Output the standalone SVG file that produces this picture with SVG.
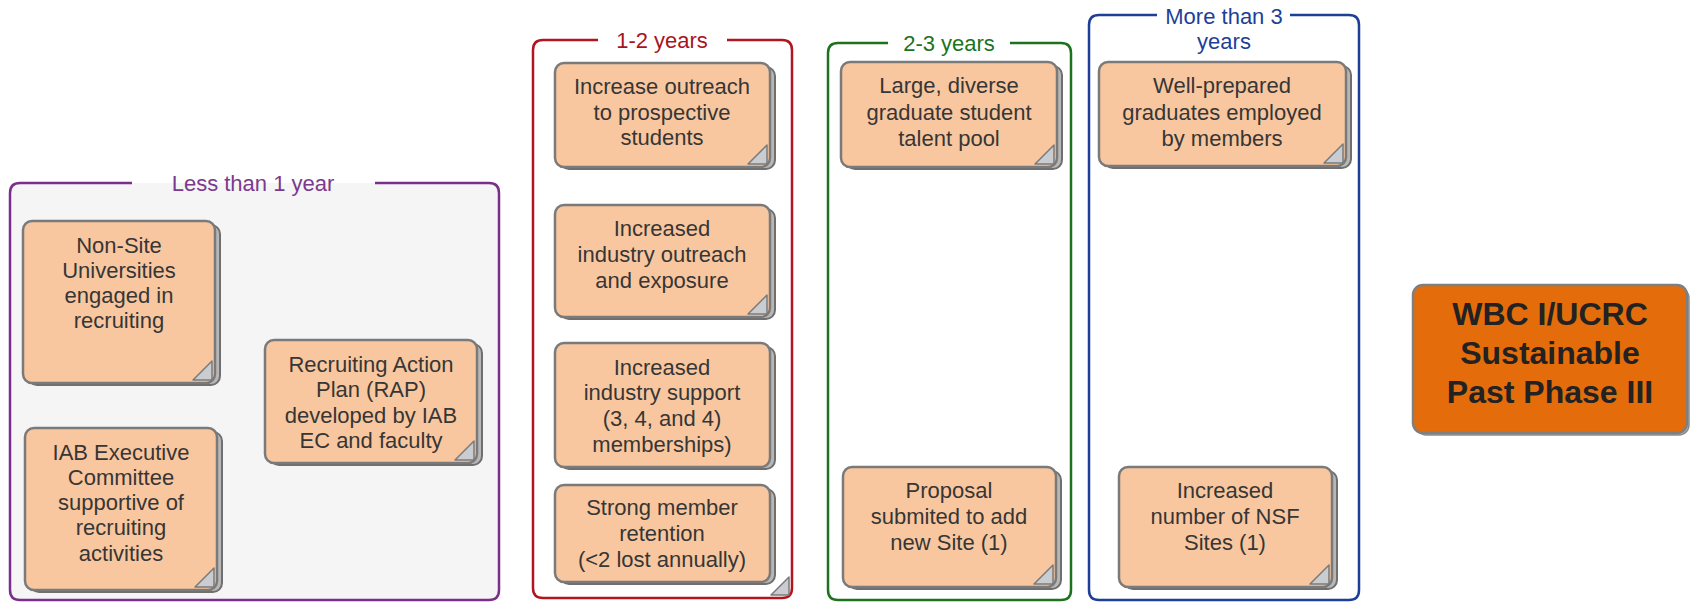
<svg xmlns="http://www.w3.org/2000/svg" width="1691" height="604" viewBox="0 0 1691 604">
<style>
text{font-family:"Liberation Sans",Arial,sans-serif;}
.t{font-size:22px;fill:#363636;text-anchor:middle;}
.lbl{font-size:22px;text-anchor:middle;}
.back{fill:#b7b7b7;stroke:#6f6f6f;stroke-width:2;}
.front{fill:#f9c79f;stroke:#7a7a7a;stroke-width:2.5;}
.fold{fill:#c9ccd0;stroke:#7a7a7a;stroke-width:1.5;stroke-linejoin:round;}
.frame{stroke-width:2.5;}
</style>
<rect width="1691" height="604" fill="#ffffff"/>

<g id="frame-less-than-1-year">
<path class="frame" d="M375,183 H489 Q499,183 499,193 V590 Q499,600 489,600 H20 Q10,600 10,590 V193 Q10,183 20,183 H132" fill="#f5f5f5" stroke="#7b2f8c"/>
<text class="lbl" x="253" y="191" fill="#7b3a8c">Less than 1 year</text>
</g>
<g id="frame-1-2-years">
<path class="frame" d="M727,40 H782 Q792,40 792,50 V588 Q792,598 782,598 H543 Q533,598 533,588 V50 Q533,40 543,40 H598" fill="none" stroke="#b01620"/>
<text class="lbl" x="662" y="48" fill="#a8141e">1-2 years</text>
<polygon class="fold" points="771,595 789,577 789,595"/>
</g>
<g id="frame-2-3-years">
<path class="frame" d="M1010,43 H1061 Q1071,43 1071,53 V590 Q1071,600 1061,600 H838 Q828,600 828,590 V53 Q828,43 838,43 H888" fill="none" stroke="#1d731d"/>
<text class="lbl" x="949" y="51" fill="#1d731d">2-3 years</text>
</g>
<g id="frame-more-than-3-years">
<path class="frame" d="M1290,15 H1349 Q1359,15 1359,25 V590 Q1359,600 1349,600 H1099 Q1089,600 1089,590 V25 Q1089,15 1099,15 H1157" fill="none" stroke="#1e3f98"/>
<text class="lbl" fill="#1e3f98"><tspan x="1224" y="24">More than 3</tspan><tspan x="1224" y="49">years</tspan></text>
</g>

<g id="n-non-site">
<rect class="back" x="28" y="225" width="192" height="160" rx="9"/>
<rect class="front" x="23" y="221" width="192" height="162" rx="9"/>
<polygon class="fold" points="193,380 212,361 212,380"/>
<text class="t"><tspan x="119" y="253">Non-Site</tspan><tspan x="119" y="278">Universities</tspan><tspan x="119" y="303">engaged in</tspan><tspan x="119" y="328">recruiting</tspan></text>
</g>
<g id="n-rap">
<rect class="back" x="270" y="344" width="212" height="121" rx="9"/>
<rect class="front" x="265" y="340" width="212" height="123" rx="9"/>
<polygon class="fold" points="455,460 474,441 474,460"/>
<text class="t"><tspan x="371" y="372">Recruiting Action</tspan><tspan x="371" y="397">Plan (RAP)</tspan><tspan x="371" y="423">developed by IAB</tspan><tspan x="371" y="448">EC and faculty</tspan></text>
</g>
<g id="n-iab">
<rect class="back" x="30" y="432" width="192" height="160" rx="9"/>
<rect class="front" x="25" y="428" width="192" height="162" rx="9"/>
<polygon class="fold" points="195,587 214,568 214,587"/>
<text class="t"><tspan x="121" y="460">IAB Executive</tspan><tspan x="121" y="485">Committee</tspan><tspan x="121" y="510">supportive of</tspan><tspan x="121" y="535">recruiting</tspan><tspan x="121" y="561">activities</tspan></text>
</g>

<g id="n-outreach-students">
<rect class="back" x="560" y="67" width="215" height="102" rx="9"/>
<rect class="front" x="555" y="63" width="215" height="104" rx="9"/>
<polygon class="fold" points="748,164 767,145 767,164"/>
<text class="t"><tspan x="662" y="94">Increase outreach</tspan><tspan x="662" y="120">to prospective</tspan><tspan x="662" y="145">students</tspan></text>
</g>
<g id="n-industry-outreach">
<rect class="back" x="560" y="209" width="215" height="110" rx="9"/>
<rect class="front" x="555" y="205" width="215" height="112" rx="9"/>
<polygon class="fold" points="748,314 767,295 767,314"/>
<text class="t"><tspan x="662" y="236">Increased</tspan><tspan x="662" y="262">industry outreach</tspan><tspan x="662" y="288">and exposure</tspan></text>
</g>
<g id="n-industry-support">
<rect class="back" x="560" y="347" width="215" height="122" rx="9"/>
<rect class="front" x="555" y="343" width="215" height="124" rx="9"/>
<text class="t"><tspan x="662" y="375">Increased</tspan><tspan x="662" y="400">industry support</tspan><tspan x="662" y="426">(3, 4, and 4)</tspan><tspan x="662" y="452">memberships)</tspan></text>
</g>
<g id="n-retention">
<rect class="back" x="560" y="489" width="215" height="95" rx="9"/>
<rect class="front" x="555" y="485" width="215" height="97" rx="9"/>
<text class="t"><tspan x="662" y="515">Strong member</tspan><tspan x="662" y="541">retention</tspan><tspan x="662" y="567">(&lt;2 lost annually)</tspan></text>
</g>

<g id="n-talent-pool">
<rect class="back" x="846" y="66" width="216" height="103" rx="9"/>
<rect class="front" x="841" y="62" width="216" height="105" rx="9"/>
<polygon class="fold" points="1035,164 1054,145 1054,164"/>
<text class="t"><tspan x="949" y="93">Large, diverse</tspan><tspan x="949" y="120">graduate student</tspan><tspan x="949" y="146">talent pool</tspan></text>
</g>
<g id="n-proposal">
<rect class="back" x="848" y="471" width="213" height="118" rx="9"/>
<rect class="front" x="843" y="467" width="213" height="120" rx="9"/>
<polygon class="fold" points="1034,584 1053,565 1053,584"/>
<text class="t"><tspan x="949" y="498">Proposal</tspan><tspan x="949" y="524">submited to add</tspan><tspan x="949" y="550">new Site (1)</tspan></text>
</g>

<g id="n-graduates">
<rect class="back" x="1104" y="66" width="247" height="102" rx="9"/>
<rect class="front" x="1099" y="62" width="247" height="104" rx="9"/>
<polygon class="fold" points="1324,163 1343,144 1343,163"/>
<text class="t"><tspan x="1222" y="93">Well-prepared</tspan><tspan x="1222" y="120">graduates employed</tspan><tspan x="1222" y="146">by members</tspan></text>
</g>
<g id="n-nsf-sites">
<rect class="back" x="1124" y="471" width="213" height="118" rx="9"/>
<rect class="front" x="1119" y="467" width="213" height="120" rx="9"/>
<polygon class="fold" points="1310,584 1329,565 1329,584"/>
<text class="t"><tspan x="1225" y="498">Increased</tspan><tspan x="1225" y="524">number of NSF</tspan><tspan x="1225" y="550">Sites (1)</tspan></text>
</g>

<g id="n-wbc">
<rect x="1416" y="288" width="273" height="147" rx="10" fill="#b5b5b5" stroke="#8a8a8a" stroke-width="1.5"/>
<rect x="1413" y="285" width="274" height="148" rx="10" fill="#e46c0a" stroke="#7f7f7f" stroke-width="2.5"/>
<text font-size="32" font-weight="bold" fill="#222" text-anchor="middle"><tspan x="1550" y="325">WBC I/UCRC</tspan><tspan x="1550" y="364">Sustainable</tspan><tspan x="1550" y="403">Past Phase III</tspan></text>
</g>
<g id="connectors"></g>
</svg>
